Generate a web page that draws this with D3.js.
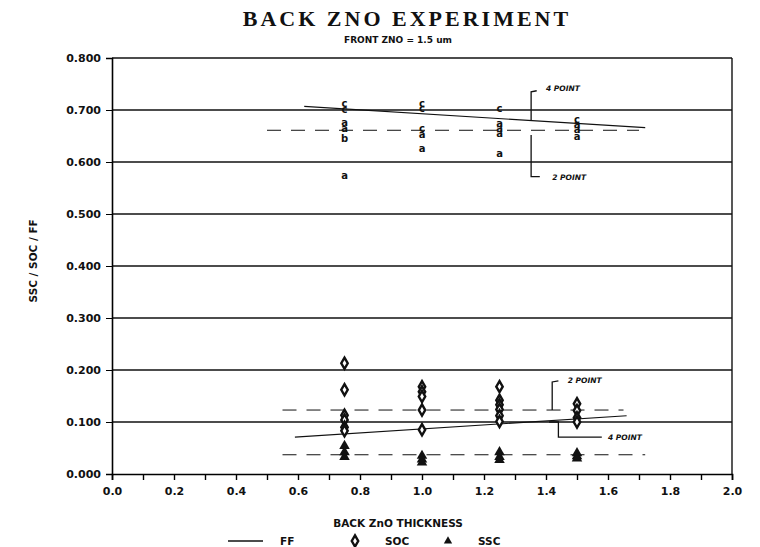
<!DOCTYPE html>
<html lang="en">
<head>
    <meta charset="UTF-8">
    <title>Back ZnO Experiment</title>
    <script src="https://d3js.org/d3.v7.min.js"></script>
    <style>
        body { margin: 0; background: #fff; }
        text { font-family: "DejaVu Sans", sans-serif; font-weight: bold; fill: #111; }
    </style>
</head>
<body>

<script>

    // thickness columns (um)
    var thickness = [0.75, 1.0, 1.25, 1.5];

    // FF readings, marked with sample letters
    var ffVals = [
        [0.713, 0.701, 0.676, 0.664, 0.645, 0.575],
        [0.713, 0.702, 0.665, 0.652, 0.626],
        [0.703, 0.675, 0.665, 0.655, 0.617],
        [0.682, 0.672, 0.662, 0.650]
    ];
    var ffLetters = [
        ['c', 'c', 'a', 'a', 'b', 'a'],
        ['c', 'c', 'c', 'a', 'a'],
        ['c', 'a', 'a', 'a', 'a'],
        ['c', 'a', 'a', 'a']
    ];

    var socVals = [
        [0.213, 0.162, 0.113, 0.104, 0.090, 0.083],
        [0.168, 0.158, 0.149, 0.123, 0.085],
        [0.168, 0.142, 0.133, 0.124, 0.112, 0.101],
        [0.135, 0.122, 0.108, 0.100]
    ];

    var sscVals = [
        [0.054, 0.042, 0.033],
        [0.035, 0.028, 0.022],
        [0.042, 0.033, 0.027],
        [0.040, 0.034, 0.030]
    ];

    // fitted / average lines [x0, y0, x1, y1]
    var ffFit = [0.62, 0.707, 1.72, 0.666];
    var ffAvg = [0.5, 0.661, 1.7, 0.661];
    var socFit = [0.59, 0.071, 1.66, 0.112];
    var socAvg = [0.55, 0.123, 1.65, 0.123];
    var sscAvg = [0.55, 0.037, 1.72, 0.037];

    var yTicks = d3.range(0, 0.801, 0.1);
    var xTicks = d3.range(0, 2.001, 0.1);

    var width = 760, height = 547;

    var svg = d3.select("body")
        .append("svg")
        .attr("width", width)
        .attr("height", height);

    var xScale = d3.scaleLinear().domain([0, 2]).range([112, 732]);
    var yScale = d3.scaleLinear().domain([0, 0.8]).range([474, 58]);

    // title
    svg.append("text")
        .attr("x", 407).attr("y", 26)
        .attr("text-anchor", "middle")
        .style("font-family", "'Liberation Serif', serif")
        .style("font-size", "22px")
        .style("letter-spacing", "3px")
        .text("BACK ZNO EXPERIMENT");

    svg.append("text")
        .attr("x", 398).attr("y", 43)
        .attr("text-anchor", "middle")
        .style("font-size", "9px")
        .text("FRONT ZNO = 1.5 um");

    // grid lines
    svg.selectAll(".grid").data(yTicks.slice(1))
        .enter().append("line")
        .attr("class", "grid")
        .attr("x1", xScale(0)).attr("x2", xScale(2))
        .attr("y1", function (d) { return yScale(d); })
        .attr("y2", function (d) { return yScale(d); })
        .attr("stroke", "#111")
        .attr("stroke-width", 1.6);

    // right border
    svg.append("line")
        .attr("x1", xScale(2)).attr("x2", xScale(2))
        .attr("y1", yScale(0.8)).attr("y2", yScale(0))
        .attr("stroke", "#111").attr("stroke-width", 1.4);

    var yAxis = d3.axisLeft(yScale)
        .tickValues(yTicks)
        .tickSize(6)
        .tickFormat(d3.format(".3f"));

    var gy = svg.append("g")
        .attr("transform", "translate(" + xScale(0) + ",0)")
        .call(yAxis);
    gy.select(".domain").attr("stroke-width", 1.6);
    gy.selectAll("text").style("font-size", "11px").attr("x", -11);

    var xAxis = d3.axisBottom(xScale)
        .tickValues(xTicks)
        .tickSize(6)
        .tickFormat(function (d, i) { return i % 2 === 0 ? d3.format(".1f")(d) : ""; });

    var gx = svg.append("g")
        .attr("transform", "translate(0," + yScale(0) + ")")
        .call(xAxis);
    gx.select(".domain").attr("stroke-width", 1.6);
    gx.selectAll("line").attr("stroke-width", 1.4);
    gx.selectAll("text").style("font-size", "11px").attr("y", 13);

    // axis titles
    svg.append("text")
        .attr("transform", "translate(37," + yScale(0.41) + ") rotate(-90)")
        .attr("text-anchor", "middle")
        .style("font-size", "10.5px")
        .text("SSC / SOC / FF");

    svg.append("text")
        .attr("x", 398).attr("y", 527)
        .attr("text-anchor", "middle")
        .style("font-size", "10.5px")
        .text("BACK ZnO THICKNESS");

    // lines
    function seg(s, dash, w) {
        svg.append("line")
            .attr("x1", xScale(s[0])).attr("y1", yScale(s[1]))
            .attr("x2", xScale(s[2])).attr("y2", yScale(s[3]))
            .attr("stroke", "#111")
            .attr("stroke-width", w)
            .attr("stroke-dasharray", dash);
    }
    seg(ffFit, null, 1.2);
    seg(ffAvg, "14,10", 1);
    seg(socFit, null, 1.2);
    seg(socAvg, "14,10", 1);
    seg(sscAvg, "14,10", 1);

    // flatten columns
    function flat(vals, extra) {
        var out = [];
        vals.forEach(function (col, i) {
            col.forEach(function (v, j) {
                out.push({ x: thickness[i], y: v, k: extra ? extra[i][j] : null });
            });
        });
        return out;
    }

    svg.selectAll(".ff").data(flat(ffVals, ffLetters))
        .enter().append("text")
        .attr("class", "ff")
        .attr("x", function (d) { return xScale(d.x); })
        .attr("y", function (d) { return yScale(d.y) + 3.5; })
        .attr("text-anchor", "middle")
        .style("font-size", "10px")
        .text(function (d) { return d.k; });

    var diamond = d3.symbol().type(d3.symbolDiamond).size(36);
    svg.selectAll(".soc").data(flat(socVals))
        .enter().append("path")
        .attr("class", "soc")
        .attr("d", diamond)
        .attr("transform", function (d) { return "translate(" + xScale(d.x) + "," + yScale(d.y) + ")"; })
        .attr("fill", "#fff")
        .attr("stroke", "#111")
        .attr("stroke-width", 2.4);

    var tri = d3.symbol().type(d3.symbolTriangle).size(48);
    svg.selectAll(".ssc").data(flat(sscVals))
        .enter().append("path")
        .attr("class", "ssc")
        .attr("d", tri)
        .attr("transform", function (d) { return "translate(" + xScale(d.x) + "," + yScale(d.y) + ")"; })
        .attr("fill", "#111");

    // handwritten notes
    function note(pts, label, lx, ly) {
        var line = d3.line()
            .x(function (d) { return xScale(d[0]); })
            .y(function (d) { return yScale(d[1]); });
        svg.append("path")
            .attr("d", line(pts))
            .attr("fill", "none")
            .attr("stroke", "#111")
            .attr("stroke-width", 1.3);
        svg.append("text")
            .attr("x", xScale(lx)).attr("y", yScale(ly) + 3)
            .style("font-size", "7.5px")
            .style("font-style", "italic")
            .text(label);
    }
    note([[1.37, 0.737], [1.352, 0.735], [1.352, 0.681]], "4 POINT", 1.40, 0.742);
    note([[1.352, 0.652], [1.352, 0.572], [1.38, 0.572]], "2 POINT", 1.42, 0.572);
    note([[1.44, 0.179], [1.42, 0.177], [1.42, 0.123]], "2 POINT", 1.47, 0.180);
    note([[1.41, 0.1], [1.44, 0.1], [1.44, 0.071], [1.58, 0.071]], "4 POINT", 1.60, 0.071);

    // legend
    var legend = svg.append("g").attr("transform", "translate(0,545)");
    legend.append("line")
        .attr("x1", 228).attr("x2", 263).attr("y1", -4).attr("y2", -4)
        .attr("stroke", "#111").attr("stroke-width", 1.4);
    legend.append("text").attr("x", 280).attr("y", 0).style("font-size", "10.5px").text("FF");
    legend.append("path").attr("d", diamond)
        .attr("transform", "translate(355,-4)")
        .attr("fill", "#fff").attr("stroke", "#111").attr("stroke-width", 2.4);
    legend.append("text").attr("x", 385).attr("y", 0).style("font-size", "10.5px").text("SOC");
    legend.append("path").attr("d", d3.symbol().type(d3.symbolTriangle).size(30))
        .attr("transform", "translate(448,-4)")
        .attr("fill", "#111");
    legend.append("text").attr("x", 478).attr("y", 0).style("font-size", "10.5px").text("SSC");

</script>

</body>
</html>
